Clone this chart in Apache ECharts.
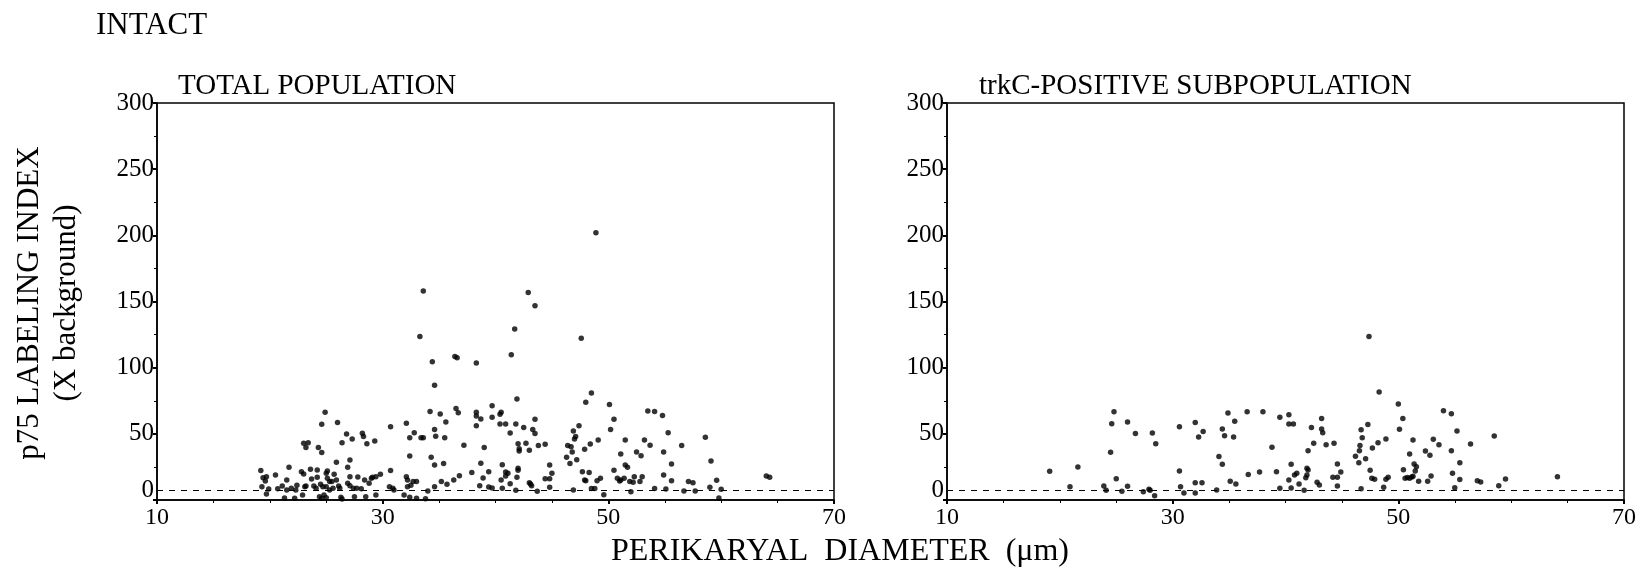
<!DOCTYPE html>
<html>
<head>
<meta charset="utf-8">
<script src="https://cdn.jsdelivr.net/npm/echarts@6/dist/echarts.min.js"></script>
<style>
  html, body { margin: 0; padding: 0; background: #fff; }
  #chart { width: 1645px; height: 572px; }
</style>
</head>
<body>
<div id="chart"></div>
<script>
// Perikaryal diameter (µm) vs p75 labeling index (× background), one [diameter, index] pair per neuron.
const totalCells = [
  [42.9,156.8],[43.5,146.7],[41.7,129.3],[41.4,109.7],[47.6,122.3],[34.4,104.4],[34.6,86.8],
  [36.4,108.4],[36.6,107.4],[38.3,103.6],[41.9,76.4],[48.5,80.9],[48.0,73.9],[50.1,72.1],
  [50.5,61.0],[50.2,53.2],[53.5,67.3],[54.1,66.8],[54.8,63.8],[55.3,50.9],[53.2,45.4],
  [53.7,41.4],[51.5,45.4],[51.1,34.8],[51.5,26.5],[51.7,24.7],[50.5,22.4],[54.9,36.3],
  [55.6,27.2],[52.5,36.3],[52.9,33.5],[56.5,41.1],[58.6,47.4],[59.1,29.5],[64.0,18.2],
  [64.3,17.2],[54.9,18.9],[55.6,14.6],[57.1,13.9],[57.5,13.1],[59.6,14.9],[59.0,9.6],
  [60.0,8.1],[59.8,1.5],[57.7,6.8],[56.7,6.8],[55.1,8.3],[54.1,8.6],[52.0,6.3],[52.3,17.6],
  [53.0,17.6],[52.8,13.9],[51.9,13.9],[52.2,13.4],[51.4,16.4],[50.8,16.4],[51.0,14.4],
  [51.1,15.1],[49.6,4.0],[49.3,16.4],[49.0,14.6],[48.5,8.6],[48.8,8.6],[47.9,15.1],[48.0,14.6],
  [47.7,21.4],[48.3,20.7],[46.9,7.6],[49.1,45.4],[48.4,42.4],[47.9,38.3],[47.4,56.2],
  [46.9,52.2],[47.1,47.9],[47.0,46.1],[46.4,41.1],[46.7,40.3],[46.8,36.3],[46.3,32.3],
  [46.6,27.5],[47.2,30.5],[44.8,26.5],[45.0,20.2],[44.8,16.1],[44.4,16.1],[44.8,9.6],
  [44.4,42.1],[43.8,41.1],[43.5,61.0],[43.3,53.2],[43.5,50.2],[42.5,54.7],[41.8,57.5],
  [41.3,50.7],[42.0,42.6],[42.1,38.8],[42.1,37.1],[42.7,42.9],[43.0,37.6],[42.0,24.0],
  [42.0,22.5],[41.9,17.2],[43.0,13.1],[43.1,12.1],[43.2,10.8],[43.7,6.6],[41.8,7.3],
  [41.3,12.3],[41.1,20.2],[40.9,21.2],[40.9,18.2],[40.5,15.1],[40.6,8.8],[40.6,26.7],
  [40.4,64.8],[40.5,66.3],[39.7,62.6],[39.7,71.3],[40.4,57.5],[40.9,57.5],[39.0,39.6],
  [38.7,27.8],[39.4,21.4],[38.9,16.6],[38.6,10.8],[39.4,9.8],[39.7,9.1],[37.9,20.7],
  [38.3,66.3],[38.3,63.5],[38.7,61.3],[38.3,56.2],[37.2,41.4],[36.8,18.4],[36.3,15.1],
  [35.7,11.9],[35.2,13.9],[35.4,27.5],[36.5,69.1],[36.7,66.0],[35.1,65.0],[35.6,59.0],
  [34.6,53.2],[34.7,48.2],[35.5,47.1],[34.3,32.3],[34.6,26.5],[34.2,66.8],[48.9,202.0],
  [33.6,158.0],[33.3,123.5],
  [24.9,66.3],[24.6,57.2],[26.0,58.5],[23.0,42.9],[23.4,43.3],[23.2,39.6],[24.3,39.6],
  [24.6,35.8],[26.4,43.3],[26.8,49.9],[27.3,46.1],[28.2,50.4],[28.3,47.9],[28.6,42.6],
  [29.3,44.6],[30.7,55.4],[32.1,58.0],[32.8,50.9],[32.4,47.1],[33.4,47.1],[33.6,47.1],
  [32.4,33.3],[19.2,22.2],[19.6,14.4],[19.3,10.1],[19.7,4.5],[19.9,8.3],[20.5,18.9],
  [20.7,8.5],[21.1,10.6],[21.5,15.1],[21.7,24.7],[21.3,1.5],[22.2,1.3],[21.5,7.6],[21.9,8.8],
  [22.4,11.1],[22.3,7.6],[22.8,21.4],[23.0,19.7],[22.9,3.8],[23.1,10.1],[23.6,23.2],
  [23.7,15.9],[23.9,10.6],[23.2,10.6],[24.2,22.7],[24.2,17.2],[24.5,11.9],[24.7,10.1],
  [24.1,8.8],[24.4,2.5],[24.6,1.3],[24.8,3.8],[25.0,1.7],[25.0,20.2],[25.1,21.9],[25.1,16.4],
  [25.3,13.9],[25.0,10.1],[25.3,7.6],[25.6,8.8],[25.7,19.4],[25.9,15.1],[25.9,28.5],
  [25.5,13.9],[26.1,10.6],[26.2,8.8],[26.3,2.0],[26.4,0.8],[26.9,24.7],[27.1,30.3],
  [26.9,12.6],[27.1,10.8],[27.5,2.5],[27.4,8.8],[27.7,8.8],[28.1,8.5],[27.1,17.6],
  [27.8,17.4],[28.4,15.1],[28.8,12.6],[29.0,16.4],[29.1,17.2],[29.4,17.6],[28.5,2.5],
  [29.4,3.8],[29.8,19.4],[30.7,22.2],[30.6,10.1],[30.9,8.8],[31.0,7.6],[32.1,17.6],
  [32.2,15.1],[32.7,13.9],[33.0,13.9],[31.9,3.8],[32.4,2.0],[33.0,1.3],[33.8,1.0],
  [34.0,6.8],[34.6,10.1],[32.2,10.1],[32.5,11.1],[19.7,17.6],[19.4,16.9]
];

const trkcCells = [
  [19.1,21.7],[21.6,25.0],[20.9,10.1],[23.9,10.6],[24.1,7.3],[24.5,36.1],[24.6,57.7],
  [24.8,66.6],[25.0,16.1],[25.5,6.6],[26.0,10.4],[26.0,59.0],[26.7,50.2],[27.4,6.3],
  [27.9,8.1],[28.0,7.3],[28.2,50.7],[28.5,42.6],[28.4,3.3],[30.6,55.4],[30.6,21.9],
  [30.7,10.1],[31.0,5.3],[32.0,13.1],[32.0,58.5],[32.3,47.7],[32.7,51.7],[32.6,13.1],
  [32.0,5.3],[33.9,7.6],[34.1,32.8],[34.4,27.0],[34.4,53.7],[34.6,48.6],[34.9,65.8],
  [35.4,47.7],[35.5,59.5],[35.1,14.1],[35.6,12.1],[36.7,19.2],[36.6,66.6],[38.0,66.6],
  [37.7,21.2],[38.8,39.9],[39.2,21.4],[39.5,62.6],[39.5,8.8],[40.3,64.5],[40.3,57.5],
  [40.7,57.5],[40.5,27.0],[40.3,15.1],[40.5,9.1],[40.8,18.9],[41.0,20.2],[41.2,12.1],
  [41.65,7.3],[41.8,16.9],[41.9,18.9],[41.9,24.0],[42.0,22.7],[42.0,37.3],[42.3,54.7],
  [42.5,42.9],[42.8,13.4],[43.0,11.3],[43.2,61.5],[43.2,53.7],[43.3,50.9],[43.6,41.8],
  [44.3,42.9],[44.2,17.2],[44.6,17.2],[44.6,27.2],[44.9,21.2],[44.6,10.6],[46.2,33.1],
  [46.5,28.2],[46.55,37.3],[46.6,41.1],[46.8,47.1],[46.7,53.0],[47.1,31.2],[47.3,57.0],
  [47.5,22.5],[47.65,16.4],[47.9,15.7],[47.7,39.3],[48.2,43.3],[48.3,81.7],[48.9,46.1],
  [48.9,15.7],[49.1,17.2],[48.7,9.6],[46.7,8.5],[50.0,72.6],[50.4,61.5],[50.1,53.5],
  [50.45,22.9],[50.6,16.4],[50.8,17.0],[51.0,16.4],[51.2,17.4],[51.3,17.9],[51.0,34.8],
  [51.3,45.4],[51.4,27.2],[51.6,25.2],[51.5,21.9],[51.8,14.1],[52.4,37.0],[52.8,33.8],
  [52.6,14.1],[52.9,18.2],[53.1,45.9],[53.6,41.8],[54.0,67.5],[54.7,65.1],[55.2,52.2],
  [54.7,37.3],[55.45,28.2],[54.8,20.2],[55.45,15.4],[55.0,9.3],[56.4,42.4],[57.0,14.6],
  [57.3,13.6],[58.5,48.4],[58.9,10.8],[59.5,15.9],[64.1,17.6],[47.4,123.5]
];

// Background threshold drawn as the dashed reference line
const backgroundLevel = 7.5;

const diameterRange = { min: 10, max: 70, step: 20 };
const indexRange = { min: 0, max: 300, step: 50 };

const panelTitles = ['TOTAL POPULATION', 'trkC-POSITIVE SUBPOPULATION'];
const figureTitle = 'INTACT';
const xName = 'PERIKARYAL  DIAMETER  (\u03bcm)';
const yName = 'p75 LABELING INDEX\n(X background)';

const FONT = '"Liberation Serif", "Times New Roman", serif';

const chart = echarts.init(document.getElementById('chart'), null, { renderer: 'canvas' });

const gridBase = { top: 103, width: 677, height: 397, show: true, borderColor: '#000', borderWidth: 1.5, backgroundColor: 'transparent' };

function xAxisFor(i) {
  return {
    gridIndex: i, type: 'value',
    min: diameterRange.min, max: diameterRange.max, interval: diameterRange.step,
    axisLine: { show: true, onZero: false, lineStyle: { color: '#000', width: 1.5 } },
    axisTick: { show: true, length: 4, lineStyle: { color: '#000', width: 2 } },
    minorTick: { show: true, splitNumber: 4, length: 3, lineStyle: { color: '#000', width: 1 } },
    splitLine: { show: false },
    axisLabel: { color: '#000', fontFamily: FONT, fontSize: 24, margin: 6 }
  };
}

function yAxisFor(i) {
  return {
    gridIndex: i, type: 'value',
    min: indexRange.min, max: indexRange.max, interval: indexRange.step,
    axisLine: { show: true, onZero: false, lineStyle: { color: '#000', width: 1.5 } },
    axisTick: { show: true, length: 4, lineStyle: { color: '#000', width: 2 } },
    minorTick: { show: true, splitNumber: 2, length: 3, lineStyle: { color: '#000', width: 1 } },
    splitLine: { show: false },
    axisLabel: {
      color: '#000', fontFamily: FONT, fontSize: 25, margin: 3,
      formatter: v => (v === 0 ? '{lift|0}' : String(v)),
      rich: { lift: { fontFamily: FONT, fontSize: 25, color: '#000', padding: [0, 0, 20, 0] } }
    }
  };
}

function scatterFor(i, cells) {
  return {
    type: 'scatter', xAxisIndex: i, yAxisIndex: i,
    data: cells, symbol: 'circle', symbolSize: 5.5,
    itemStyle: { color: '#000' },
    silent: true,
    markLine: {
      silent: true, symbol: 'none', animation: false,
      label: { show: false },
      lineStyle: { color: '#000', width: 1, type: [6, 6] },
      data: [{ yAxis: backgroundLevel }]
    }
  };
}

const titleStyle = { color: '#000', fontFamily: FONT, fontWeight: 'normal' };

chart.setOption({
  animation: false,
  backgroundColor: '#fff',
  title: [
    { text: figureTitle, left: 91, top: 5, textStyle: Object.assign({ fontSize: 31 }, titleStyle) },
    { text: panelTitles[0], left: 173, top: 67, textStyle: Object.assign({ fontSize: 29 }, titleStyle) },
    { text: panelTitles[1], left: 974, top: 67, textStyle: Object.assign({ fontSize: 29 }, titleStyle) }
  ],
  grid: [
    Object.assign({ left: 157 }, gridBase),
    Object.assign({ left: 947 }, gridBase)
  ],
  xAxis: [xAxisFor(0), xAxisFor(1)],
  yAxis: [yAxisFor(0), yAxisFor(1)],
  series: [scatterFor(0, totalCells), scatterFor(1, trkcCells)],
  graphic: [
    {
      type: 'text', x: 48, y: 303, rotation: Math.PI / 2,
      style: { text: yName, fill: '#000', font: '31px ' + FONT, align: 'center', verticalAlign: 'middle', lineHeight: 37 }
    },
    {
      type: 'text', x: 840, y: 552,
      style: { text: xName, fill: '#000', font: '32px ' + FONT, align: 'center', verticalAlign: 'middle' }
    }
  ]
});
</script>
</body>
</html>
